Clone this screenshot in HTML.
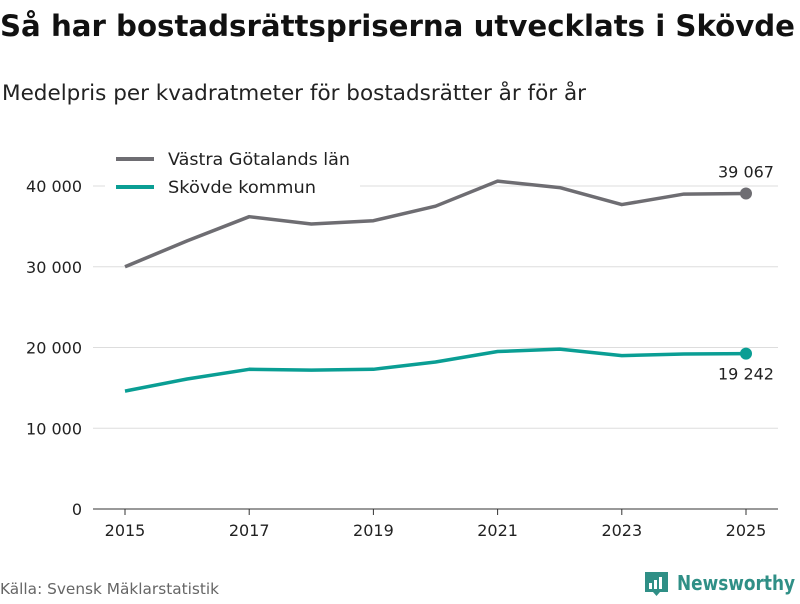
<!DOCTYPE html>
<html><head><meta charset="utf-8"><style>
body{margin:0;width:800px;height:600px;background:#fff;font-family:"DejaVu Sans","Liberation Sans",sans-serif;overflow:hidden}
svg text{font-family:"DejaVu Sans","Liberation Sans",sans-serif}
</style></head><body>
<svg id="c" width="800" height="600">
<text x="0" y="36" font-size="29" font-weight="bold" fill="#111" textLength="795" lengthAdjust="spacingAndGlyphs">Så har bostadsrättspriserna utvecklats i Skövde</text>
<text x="2" y="100" font-size="21" fill="#222" textLength="584" lengthAdjust="spacingAndGlyphs">Medelpris per kvadratmeter för bostadsrätter år för år</text>
<g id="grid"></g><g id="axes"></g><g id="series"></g>
<g>
<rect x="105" y="145" width="255" height="55" fill="#fff"/>
<line x1="116" y1="159" x2="154" y2="159" stroke="#6e6d72" stroke-width="4"/>
<text x="168" y="165" font-size="16.5" fill="#222" textLength="182" lengthAdjust="spacingAndGlyphs">Västra Götalands län</text>
<line x1="116" y1="187" x2="154" y2="187" stroke="#0a9e94" stroke-width="4"/>
<text x="168" y="193" font-size="16.5" fill="#222" textLength="148" lengthAdjust="spacingAndGlyphs">Skövde kommun</text>
</g>
<text x="0" y="594" font-size="15" fill="#666" textLength="219" lengthAdjust="spacingAndGlyphs">Källa: Svensk Mäklarstatistik</text>
<g>
<path d="M645 572 h23 v20 h-8 l-3.5 4 l-3.5 -4 h-8 z" fill="#2f8f86"/>
<rect x="649" y="583" width="3" height="6" fill="#fff"/><rect x="654" y="580" width="3" height="9" fill="#fff"/><rect x="659" y="577" width="3" height="12" fill="#fff"/>
<text x="677" y="590" font-size="20" font-weight="bold" fill="#2f8f86" textLength="118" lengthAdjust="spacingAndGlyphs">Newsworthy</text>
</g>
</svg>
<script>
const years=[2015,2016,2017,2018,2019,2020,2021,2022,2023,2024,2025];
const vgValues=[30000,33200,36200,35300,35700,37500,40600,39800,37700,39000,39067];
const skValues=[14600,16100,17300,17200,17300,18200,19500,19800,19000,19200,19242];
const yTicks=[0,10000,20000,30000,40000];
const yTickLabels=["0","10 000","20 000","30 000","40 000"];
const xTicks=[2015,2017,2019,2021,2023,2025];
const NS="http://www.w3.org/2000/svg";
const x=v=>125+(v-2015)*62.1;
const y=v=>509-v*323/40000;
function mk(t,a,p){const e=document.createElementNS(NS,t);for(const k in a)e.setAttribute(k,a[k]);p.appendChild(e);return e;}
const grid=document.getElementById('grid'),axes=document.getElementById('axes'),ser=document.getElementById('series');
yTicks.forEach((v,i)=>{
 if(v>0){const l=mk('line',{x1:93,x2:778,y1:y(v),y2:y(v),stroke:'#ddd','stroke-width':1},grid);
 
 }
 const t=mk('text',{x:82,y:y(v)+6,'font-size':16,fill:'#222','text-anchor':'end'},axes);t.textContent=yTickLabels[i];
 
 
});
const base=mk('line',{x1:93,x2:778,y1:509,y2:509,stroke:'#333','stroke-width':1},axes);


xTicks.forEach(v=>{
 mk('line',{x1:x(v),x2:x(v),y1:509,y2:515,stroke:'#333'},axes);
 const t=mk('text',{x:x(v),y:536,'font-size':16,fill:'#222','text-anchor':'middle'},axes);t.textContent=v;
 
 
});
function draw(vals,col,name,lbl,dy){
 const p=mk('polyline',{points:vals.map((v,i)=>x(years[i])+','+y(v)).join(' '),fill:'none',stroke:col,'stroke-width':3.5,'stroke-linejoin':'round'},ser);
 
 
 const n=vals.length-1;
 const c=mk('circle',{cx:x(years[n]),cy:y(vals[n]),r:6,fill:col},ser);
 
 
 const t=mk('text',{x:x(years[n]),y:y(vals[n])+dy,'font-size':16,fill:'#222','text-anchor':'middle'},ser);
 t.textContent=lbl(vals[n]);
 
 
}
const fmt=v=>String(v).replace(/\B(?=(\d{3})+(?!\d))/g,' ');
draw(vgValues,'#6e6d72','vg',fmt,-16);
draw(skValues,'#0a9e94','skovde',fmt,26);
</script>
</body></html>
